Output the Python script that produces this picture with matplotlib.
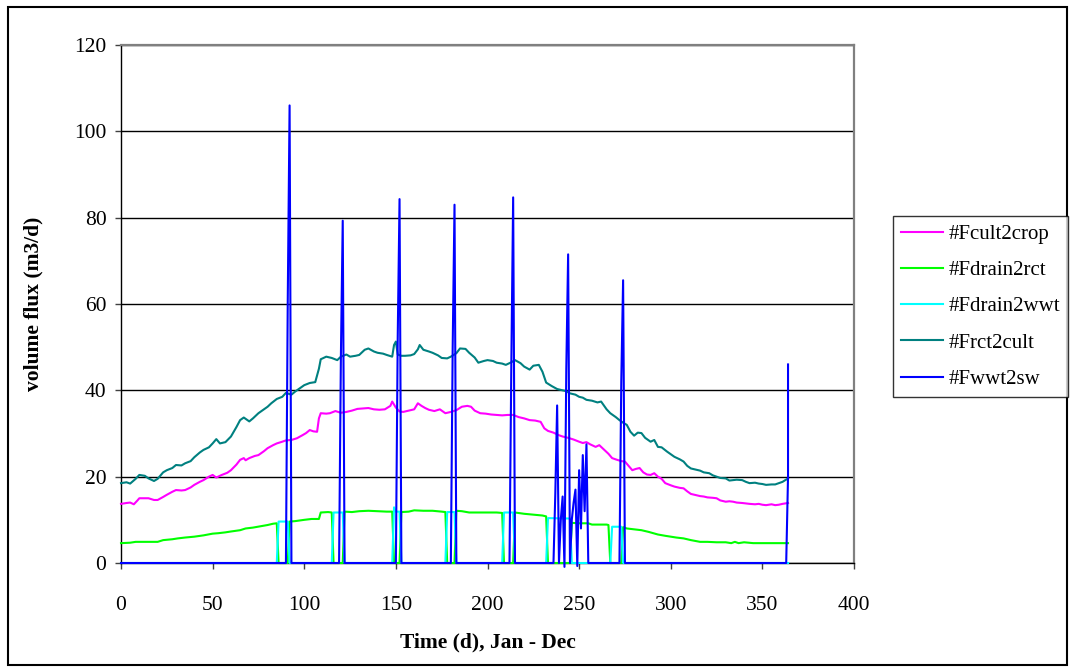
import matplotlib.pyplot as plt
from matplotlib.patches import Rectangle

# *****************************************************************************

SERIES_NAMES = ['#Fcult2crop', '#Fdrain2rct', '#Fdrain2wwt', '#Frct2cult', '#Fwwt2sw']
SERIES_COLORS = ['#FF00FF', '#00FF00', '#00FFFF', '#008080', '#0000FF']

crop_days = [0, 3, 5, 7, 9, 10, 13, 15, 18, 20, 23, 25, 28, 30, 33, 35, 38, 40, 43, 45,
             48, 50, 52, 55, 58, 60, 63, 65, 67, 68, 70, 73, 75, 78, 80, 83, 85, 88, 90,
             93, 96, 99, 101, 103, 105, 107, 108, 109, 112, 114, 117, 120, 123, 126, 129,
             132, 135, 138, 141, 144, 147, 148, 150, 152, 154, 157, 160, 162, 164, 166,
             168, 171, 174, 177, 180, 183, 186, 189, 191, 193, 196, 199, 202, 205, 208,
             211, 214, 217, 220, 223, 226, 229, 231, 233, 236, 239, 241, 244, 247, 250,
             252, 254, 256, 259, 261, 263, 266, 268, 270, 273, 275, 277, 279, 281, 283,
             285, 287, 289, 291, 293, 295, 297, 300, 302, 305, 307, 309, 311, 314, 316,
             318, 320, 323, 325, 327, 330, 332, 334, 336, 339, 341, 343, 346, 348, 350,
             352, 355, 357, 359, 361, 364]
crop_vals = [13.7, 13.9, 14.0, 13.6, 14.5, 15.0, 15.0, 15.0, 14.6, 14.6, 15.3, 15.8, 16.5,
             16.9, 16.8, 16.9, 17.5, 18.1, 18.8, 19.2, 20.0, 20.4, 19.8, 20.4, 20.9, 21.5,
             22.8, 23.9, 24.3, 23.8, 24.3, 24.8, 25.0, 25.9, 26.6, 27.3, 27.7, 28.1, 28.4,
             28.5, 28.9, 29.6, 30.1, 30.8, 30.5, 30.4, 33.5, 34.7, 34.6, 34.7, 35.2, 34.8,
             35.0, 35.3, 35.7, 35.8, 35.9, 35.6, 35.5, 35.6, 36.4, 37.4, 36.0, 35.1, 35.0,
             35.3, 35.6, 37.0, 36.4, 35.9, 35.5, 35.2, 35.6, 34.7, 35.0, 35.4, 36.2, 36.4,
             36.2, 35.3, 34.7, 34.6, 34.4, 34.3, 34.2, 34.3, 34.3, 33.8, 33.5, 33.1, 33.0,
             32.7, 31.2, 30.6, 30.2, 29.6, 29.3, 29.0, 28.6, 28.1, 27.8, 28.0, 27.5, 26.9,
             27.3, 26.5, 25.3, 24.3, 24.0, 23.6, 23.5, 22.5, 21.5, 21.8, 22.0, 21.0, 20.5,
             20.4, 20.8, 20.0, 19.5, 18.5, 18.0, 17.7, 17.4, 17.3, 16.6, 16.0, 15.7, 15.5,
             15.4, 15.2, 15.1, 15.0, 14.5, 14.2, 14.3, 14.2, 14.0, 13.9, 13.8, 13.7, 13.6,
             13.7, 13.5, 13.4, 13.6, 13.4, 13.5, 13.7, 13.9]

rct_in_days = [0, 5, 8, 15, 20, 23, 28, 31, 35, 40, 45, 50, 53, 57, 60, 65, 68, 72, 76,
               80, 83, 85, 86, 91, 92, 95, 100, 104, 108, 109, 113, 115, 116, 121, 122,
               126, 130, 135, 140, 145, 148, 149, 152, 153, 157, 160, 165, 170, 175, 177,
               178, 182, 183, 186, 190, 195, 200, 205, 208, 209, 214, 215, 220, 225, 230,
               232, 233, 245, 246, 250, 255, 257, 260, 265, 266, 267, 273, 274, 276, 280,
               284, 288, 293, 297, 300, 303, 307, 311, 316, 320, 325, 330, 333, 335, 337,
               340, 345, 350, 355, 360, 364]
rct_in_vals = [4.6, 4.7, 4.9, 4.9, 4.9, 5.3, 5.5, 5.7, 5.9, 6.1, 6.4, 6.8, 6.9, 7.1, 7.3,
               7.6, 8.0, 8.2, 8.5, 8.8, 9.1, 9.2, 0, 0, 9.6, 9.7, 10.0, 10.2, 10.2, 11.7,
               11.8, 11.7, 0, 0, 11.9, 11.8, 12.0, 12.1, 12.0, 11.9, 11.9, 0, 0, 11.8, 11.9,
               12.2, 12.1, 12.1, 11.9, 11.8, 0, 0, 12.1, 12.0, 11.7, 11.7, 11.7, 11.7, 11.6,
               0, 0, 11.7, 11.4, 11.2, 11.0, 10.8, 0, 0, 9.3, 9.2, 9.2, 8.9, 8.9, 8.9, 8.8,
               0, 0, 8.3, 8.0, 7.8, 7.6, 7.2, 6.6, 6.3, 6.1, 5.9, 5.7, 5.3, 4.9, 4.9, 4.8,
               4.8, 4.6, 4.9, 4.6, 4.8, 4.6, 4.6, 4.6, 4.6, 4.6]

wwt_in_days = [0, 85, 86, 91, 92, 115, 116, 121, 122, 148, 149, 150, 152, 153, 177, 178,
               182, 183, 208, 209, 214, 215, 232, 233, 245, 246, 267, 268, 273, 274, 364]
wwt_in_vals = [0, 0, 9.6, 9.6, 0, 0, 11.7, 11.7, 0, 0, 12.9, 11.9, 11.9, 0, 0, 11.8, 11.8,
               0, 0, 11.7, 11.7, 0, 0, 10.4, 10.3, 0, 0, 8.4, 8.4, 0, 0]

cult_in_days = [0, 3, 5, 8, 10, 13, 15, 18, 20, 23, 25, 28, 30, 33, 35, 38, 40, 43, 45, 48,
                50, 52, 54, 57, 60, 63, 65, 67, 70, 72, 75, 78, 80, 82, 85, 88, 90, 93, 95,
                98, 100, 103, 106, 108, 109, 112, 115, 118, 120, 123, 125, 128, 130, 133,
                135, 138, 140, 143, 145, 148, 149, 150, 151, 153, 155, 158, 160, 162, 163,
                165, 168, 170, 173, 175, 178, 180, 183, 185, 188, 190, 193, 195, 198, 200,
                203, 205, 208, 210, 213, 215, 218, 220, 223, 225, 228, 230, 232, 235, 238,
                240, 243, 245, 248, 250, 252, 254, 257, 260, 262, 265, 267, 270, 272, 274,
                276, 278, 280, 282, 284, 286, 289, 291, 293, 295, 298, 300, 302, 305, 307,
                309, 311, 314, 316, 318, 321, 323, 325, 327, 330, 332, 334, 336, 339, 341,
                343, 346, 348, 350, 352, 355, 357, 359, 361, 364]
cult_in_vals = [18.5, 18.7, 18.4, 19.5, 20.4, 20.2, 19.6, 19.0, 19.5, 21.0, 21.5, 22.0,
                22.7, 22.6, 23.1, 23.6, 24.5, 25.6, 26.2, 26.8, 27.7, 28.7, 27.7, 28.0,
                29.3, 31.5, 33.1, 33.7, 32.8, 33.5, 34.7, 35.6, 36.2, 37.0, 38.0, 38.5,
                39.4, 39.0, 39.7, 40.6, 41.2, 41.7, 41.9, 45.0, 47.2, 47.8, 47.5, 47.0,
                47.8, 48.3, 47.8, 48.0, 48.2, 49.4, 49.7, 49.0, 48.7, 48.5, 48.2, 47.8,
                50.5, 51.3, 48.3, 48.0, 48.0, 48.1, 48.4, 49.5, 50.5, 49.4, 49.0, 48.7,
                48.1, 47.5, 47.4, 47.8, 48.6, 49.7, 49.6, 48.7, 47.6, 46.4, 46.8, 47.0,
                46.8, 46.4, 46.2, 45.9, 46.5, 47.0, 46.3, 45.5, 44.8, 45.7, 45.9, 44.3,
                41.8, 41.0, 40.3, 40.1, 39.8, 39.3, 39.0, 38.5, 38.3, 37.8, 37.6, 37.2,
                37.4, 35.6, 34.7, 33.8, 33.1, 32.5, 32.0, 30.4, 29.5, 30.2, 30.1, 29.0,
                28.1, 28.5, 26.9, 26.8, 25.8, 25.2, 24.6, 24.0, 23.5, 22.5, 21.9, 21.6,
                21.4, 21.0, 20.8, 20.3, 20.0, 19.7, 19.6, 19.1, 19.2, 19.3, 19.2, 18.8,
                18.5, 18.6, 18.4, 18.3, 18.1, 18.2, 18.2, 18.5, 18.8, 19.6]

sw_days = [0, 90, 91, 92, 93, 119, 120, 121, 122, 150, 151, 152, 153, 180, 181, 182, 183,
           212, 213, 214, 215, 236, 237, 238, 239, 240, 241, 242, 243, 244, 245, 246, 247,
           248, 249, 250, 251, 252, 253, 254, 255, 272, 273, 274, 275, 363, 364, 364]
sw_vals = [0, 0, 61, 106, 0, 0, 48, 79.3, 0, 0, 52, 84.3, 0, 0, 50, 83, 0, 0, 46, 84.7, 0,
           0, 16, 36.5, 0, 10, 15.4, -0.9, 45, 71.5, 0, 10, 14, 17, -0.7, 21.5, 8, 25, 12,
           27.5, 0, 0, 42, 65.5, 0, 0, 20, 46]

X_TICKS = [0, 50, 100, 150, 200, 250, 300, 350, 400]
Y_TICKS = [0, 20, 40, 60, 80, 100, 120]

# *****************************************************************************


def make_fig():

    plt.rcParams['font.family'] = ['Liberation Serif', 'DejaVu Serif']

    fig01 = plt.figure(figsize=(10.75, 6.72), dpi=100)
    W, H = 1075.0, 672.0

    axs01 = fig01.add_axes([121/W, 1-563/H, (854-121)/W, (563-45)/H])

    all_days = [crop_days, rct_in_days, wwt_in_days, cult_in_days, sw_days]
    all_vals = [crop_vals, rct_in_vals, wwt_in_vals, cult_in_vals, sw_vals]

    for k1 in range(len(SERIES_NAMES)):
        axs01.plot(all_days[k1], all_vals[k1], color=SERIES_COLORS[k1],
                   lw=1.5, label=SERIES_NAMES[k1], clip_on=False, zorder=3+k1)

    axs01.set_xlim(0, 400)
    axs01.set_ylim(0, 120)
    axs01.set_xticks(X_TICKS)
    axs01.set_yticks(Y_TICKS)
    axs01.tick_params(axis='both', labelsize=15.5, direction='out', length=4.5,
                      width=1.0, color='#404040')
    axs01.tick_params(axis='x', pad=19)
    axs01.tick_params(axis='y', pad=6)

    axs01.yaxis.grid(True, color='black', lw=1.0)
    axs01.set_axisbelow(True)
    for side in ['top', 'right']:
        axs01.spines[side].set_color('#808080')
        axs01.spines[side].set_linewidth(1.6)
    for side in ['left', 'bottom']:
        axs01.spines[side].set_color('black')
        axs01.spines[side].set_linewidth(1.0)

    axs01.set_xlabel('Time (d), Jan - Dec', fontsize=15.5, fontweight='bold',
                     labelpad=13)
    axs01.set_ylabel('volume flux (m3/d)', fontsize=15.5, fontweight='bold',
                     labelpad=22)

    leg = fig01.legend(loc='upper left', bbox_to_anchor=(893/W, 1-216/H),
                       fontsize=15, frameon=True, fancybox=False,
                       edgecolor='black', handlelength=2.0, handletextpad=0.25,
                       labelspacing=0.8, borderpad=0.4, borderaxespad=0)
    leg.get_frame().set_linewidth(1.0)

    # Outer chart border
    fig01.patches.append(Rectangle((8/W, 1-665/H), (1067-8)/W, (665-7)/H,
                                   transform=fig01.transFigure, fill=False,
                                   edgecolor='black', lw=1.5))

    plt.savefig('out.png', dpi=100)
    plt.close()

    return None

# *****************************************************************************


if (__name__ == "__main__"):

    make_fig()

# *****************************************************************************
